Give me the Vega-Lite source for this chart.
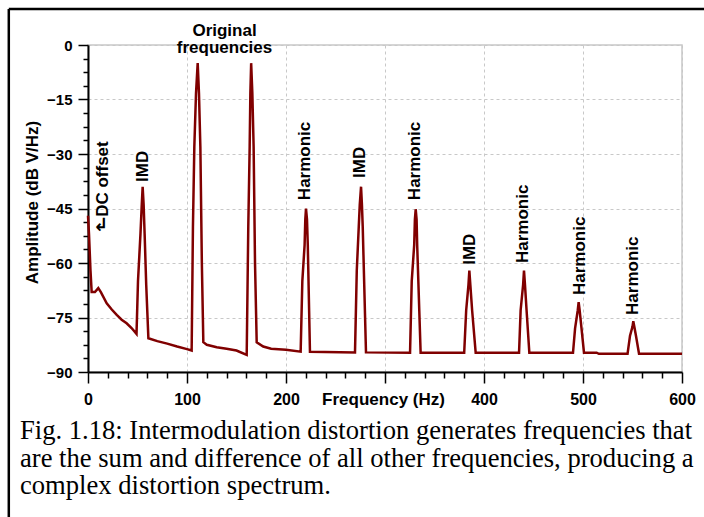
{
  "$schema": "https://vega.github.io/schema/vega-lite/v6.json",
  "width": 594,
  "height": 327,
  "autosize": "none",
  "padding": {"left": 88, "top": 45, "right": 22, "bottom": 145},
  "background": "white",
  "title": {
    "text": ["Fig. 1.18: Intermodulation distortion generates frequencies that", "are the sum and difference of all other frequencies, producing a", "complex distortion spectrum."],
    "orient": "bottom",
    "anchor": "start",
    "frame": "group",
    "dx": -68,
    "offset": -100,
    "font": "Liberation Serif",
    "fontSize": 26.6,
    "fontWeight": "normal",
    "color": "black",
    "lineHeight": 27.3
  },
  "config": {
    "view": {"stroke": "#c8c8c8", "strokeWidth": 1.5},
    "axis": {
      "labelFont": "Liberation Sans",
      "labelFontWeight": "bold",
      "labelColor": "black",
      "titleFont": "Liberation Sans",
      "titleFontWeight": "bold",
      "titleFontSize": 17,
      "titleColor": "black",
      "domainColor": "black",
      "domainWidth": 2,
      "tickColor": "black",
      "tickWidth": 1.5,
      "gridColor": "#c8c8c8",
      "gridDash": [3, 3],
      "gridWidth": 1,
      "labelOverlap": false,
      "labelFlush": false
    }
  },
  "datasets": {
    "spectrum": [
      {"f": 0, "db": -47}, {"f": 1, "db": -52}, {"f": 2.5, "db": -62}, {"f": 3.7, "db": -68}, {"f": 7, "db": -68},
      {"f": 10.4, "db": -66.9}, {"f": 13, "db": -68}, {"f": 18.9, "db": -71.1}, {"f": 24, "db": -72.8}, {"f": 29, "db": -74.3},
      {"f": 34, "db": -75.6}, {"f": 39, "db": -76.6}, {"f": 44, "db": -77.9}, {"f": 49, "db": -79.5},
      {"f": 50.5, "db": -65}, {"f": 53, "db": -52}, {"f": 54.3, "db": -44}, {"f": 55.2, "db": -39},
      {"f": 56.2, "db": -44}, {"f": 57.2, "db": -52}, {"f": 58.8, "db": -66}, {"f": 61, "db": -80.7},
      {"f": 70, "db": -81.5}, {"f": 80, "db": -82.2}, {"f": 90, "db": -83}, {"f": 100, "db": -83.7}, {"f": 104.7, "db": -84.1},
      {"f": 106, "db": -50}, {"f": 107.4, "db": -28}, {"f": 109.1, "db": -13.3}, {"f": 110.8, "db": -5}, {"f": 112.1, "db": -13.3},
      {"f": 113.5, "db": -28}, {"f": 115, "db": -60}, {"f": 116.5, "db": -81.8},
      {"f": 120, "db": -82.5}, {"f": 130, "db": -83.2}, {"f": 140, "db": -83.6}, {"f": 150, "db": -84.1}, {"f": 160.3, "db": -85.3},
      {"f": 161.9, "db": -50}, {"f": 163.3, "db": -28}, {"f": 164, "db": -13.3}, {"f": 164.8, "db": -5}, {"f": 166, "db": -13.3},
      {"f": 167.3, "db": -28}, {"f": 168.7, "db": -60}, {"f": 170.4, "db": -81.8},
      {"f": 177, "db": -83}, {"f": 185, "db": -83.6}, {"f": 200, "db": -83.9}, {"f": 214.8, "db": -84.4},
      {"f": 216.5, "db": -65}, {"f": 218.8, "db": -55}, {"f": 219.5, "db": -48}, {"f": 220.2, "db": -45}, {"f": 221.2, "db": -48},
      {"f": 222, "db": -55}, {"f": 224.2, "db": -84.4}, {"f": 269.7, "db": -84.6},
      {"f": 271.5, "db": -62}, {"f": 273.5, "db": -50}, {"f": 274.5, "db": -44}, {"f": 275.8, "db": -39}, {"f": 276.7, "db": -44},
      {"f": 277.5, "db": -50}, {"f": 280.8, "db": -84.6}, {"f": 325.3, "db": -84.7},
      {"f": 327, "db": -65}, {"f": 329.5, "db": -55}, {"f": 330.2, "db": -48}, {"f": 331, "db": -45.2}, {"f": 331.9, "db": -48},
      {"f": 332.5, "db": -55}, {"f": 336, "db": -84.7}, {"f": 380, "db": -84.7},
      {"f": 382, "db": -73}, {"f": 384.3, "db": -66}, {"f": 385.2, "db": -62.1}, {"f": 386.2, "db": -66}, {"f": 388, "db": -73},
      {"f": 391.6, "db": -84.7}, {"f": 435.4, "db": -84.7},
      {"f": 437, "db": -73}, {"f": 439.5, "db": -66}, {"f": 440.4, "db": -62.1}, {"f": 441.4, "db": -66}, {"f": 443, "db": -73},
      {"f": 445.8, "db": -84.7}, {"f": 489.9, "db": -84.7},
      {"f": 492, "db": -78}, {"f": 494.7, "db": -73}, {"f": 495.6, "db": -70.8}, {"f": 496.6, "db": -73}, {"f": 498.5, "db": -78},
      {"f": 501, "db": -84.7}, {"f": 513.8, "db": -84.7}, {"f": 516, "db": -85}, {"f": 545, "db": -85},
      {"f": 547.5, "db": -80}, {"f": 550, "db": -77.5}, {"f": 550.8, "db": -76}, {"f": 551.8, "db": -77.5}, {"f": 553.5, "db": -80},
      {"f": 556.6, "db": -85}, {"f": 600, "db": -85}
    ],
    "labels": [
      {"f": 15.2, "db": -47.3, "label": "DC offset"},
      {"f": 55.6, "db": -37.7, "label": "IMD"},
      {"f": 219.5, "db": -42.7, "label": "Harmonic"},
      {"f": 274.7, "db": -36.6, "label": "IMD"},
      {"f": 330.5, "db": -42.7, "label": "Harmonic"},
      {"f": 385.9, "db": -60.5, "label": "IMD"},
      {"f": 439.5, "db": -60, "label": "Harmonic"},
      {"f": 496.5, "db": -68.8, "label": "Harmonic"},
      {"f": 550.5, "db": -74.3, "label": "Harmonic"}
    ],
    "toplabels": [
      {"f": 137.9, "db": 2.48, "label": "Original"},
      {"f": 137.9, "db": -2.28, "label": "frequencies"}
    ],
    "arrow": [
      {"f": 12.6, "db": -49.8, "label": "↲"}
    ],
    "frame": [
      {"side": "top", "f": -80, "f2": 720, "db": 9.9, "db2": 9.9},
      {"side": "left", "f": -80, "f2": -80, "db": 9.9, "db2": -129.9}
    ]
  },
  "encoding": {
    "x": {
      "field": "f",
      "type": "quantitative",
      "scale": {"domain": [0, 600], "nice": false, "zero": false},
      "axis": {
        "title": "Frequency (Hz)",
        "titleX": 295,
        "titleY": 32,
        "titleBaseline": "alphabetic",
        "titleAlign": "center",
        "titleAnchor": null,
        "values": [0, 20, 40, 60, 80, 100, 120, 140, 160, 180, 200, 220, 240, 260, 280, 300, 320, 340, 360, 380, 400, 420, 440, 460, 480, 500, 520, 540, 560, 580, 600],
        "labelExpr": "(datum.value % 100 == 0 && datum.value != 300) ? format(datum.value, 'd') : ''",
        "labelFontSize": 16,
        "labelBaseline": "alphabetic",
        "labelPadding": 21,
        "tickSize": {"condition": {"test": "datum.value % 100 == 0", "value": 11}, "value": 6},
        "gridOpacity": {"condition": {"test": "datum.value % 100 == 0", "value": 1}, "value": 0}
      }
    },
    "y": {
      "field": "db",
      "type": "quantitative",
      "scale": {"domain": [-90, 0], "nice": false, "zero": false},
      "axis": {
        "title": "Amplitude (dB V/Hz)",
        "titleX": -51,
        "titleY": 157,
        "titleBaseline": "alphabetic",
        "titleAlign": "center",
        "titleAngle": 270,
        "titleAnchor": null,
        "values": [-90, -86.25, -82.5, -78.75, -75, -71.25, -67.5, -63.75, -60, -56.25, -52.5, -48.75, -45, -41.25, -37.5, -33.75, -30, -26.25, -22.5, -18.75, -15, -11.25, -7.5, -3.75, 0],
        "labelExpr": "datum.value % 15 == 0 ? format(datum.value, 'd') : ''",
        "labelFontSize": 15,
        "labelBaseline": "middle",
        "labelPadding": 6,
        "tickSize": {"condition": {"test": "datum.value % 15 == 0", "value": 10}, "value": 5},
        "gridOpacity": {"condition": {"test": "datum.value % 15 == 0", "value": 1}, "value": 0}
      }
    }
  },
  "layer": [
    {
      "data": {"name": "spectrum"},
      "mark": {"type": "line", "color": "#800000", "strokeWidth": 2.5, "strokeJoin": "miter", "clip": false},
      "encoding": {"order": {"field": "f", "type": "quantitative"}}
    },
    {
      "data": {"name": "labels"},
      "mark": {"type": "text", "angle": 270, "align": "left", "baseline": "middle", "font": "Liberation Sans", "fontWeight": "bold", "fontSize": 17, "color": "black", "clip": false},
      "encoding": {"text": {"field": "label"}}
    },
    {
      "data": {"name": "toplabels"},
      "mark": {"type": "text", "align": "center", "baseline": "alphabetic", "font": "Liberation Sans", "fontWeight": "bold", "fontSize": 17, "color": "black", "clip": false},
      "encoding": {"text": {"field": "label"}}
    },
    {
      "data": {"name": "arrow"},
      "mark": {"type": "text", "align": "center", "baseline": "middle", "font": "DejaVu Sans", "fontWeight": "bold", "fontSize": 18, "color": "black", "clip": false},
      "encoding": {"text": {"field": "label"}}
    },
    {
      "data": {"name": "frame"},
      "mark": {"type": "rule", "color": "black", "strokeWidth": 2.5, "clip": false},
      "encoding": {
        "x": {"field": "f", "type": "quantitative"},
        "x2": {"field": "f2"},
        "y": {"field": "db", "type": "quantitative"},
        "y2": {"field": "db2"}
      }
    }
  ]
}
